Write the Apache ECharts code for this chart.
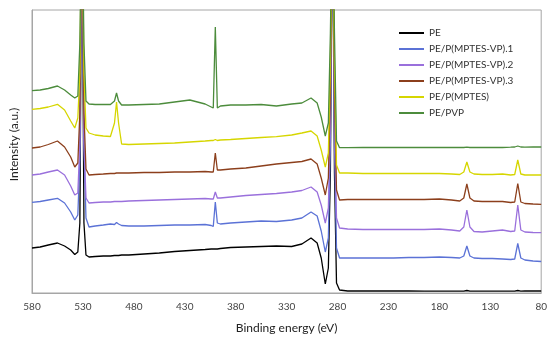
<!DOCTYPE html>
<html>
<head>
<meta charset="utf-8">
<script src="https://cdn.jsdelivr.net/npm/echarts@6/dist/echarts.min.js"></script>
<style>html,body{margin:0;padding:0;background:#fff;}#chart{width:550px;height:339px;}</style>
</head>
<body>
<div id="chart"></div>
<script>
// Binding energy grid (eV)
const energy = [580,572,564,555,548,542,538,535,533,531,529,527,524,518,510,503,499,497,495,492,485,470,455,440,425,410,404,402,400,398,395,385,370,355,340,325,315,306,300,296,292,289,287,285,283,281,278,270,255,240,225,210,195,180,168,160,156,153,150,146,138,128,118,110,106,103,100,96,88,80];
const seriesNames = ['PE','PE/P(MPTES-VP).1','PE/P(MPTES-VP).2','PE/P(MPTES-VP).3','PE/P(MPTES)','PE/PVP'];
// Intensity (a.u., stacked offsets as plotted)
const pe   = [45,46,48,50,47,43,38.5,41,70,400,70,38,36,36.5,37,37,37.5,37.5,37.5,38,38,39,40,41.5,42.5,43.5,44,44,44,44,44.5,45.5,46,46.5,47,46.5,49,55,50,35,9,25,120,400,120,10,3,2,2,2,2,2,1.8,1.8,1.8,1.8,1.8,2.5,1.8,1.8,1.8,1.8,1.8,1.8,1.8,2.5,1.8,2,2,2];
const vp1  = [90.7,91.5,93,94.7,90,81,73,78,133,400,150,75,66,67,68,69,68.5,70.5,69,67.5,67,67,67.5,68,68,68.5,67.5,66.5,91,70,69,70,71,72,71.5,73,75,81,77,62,41,55,150,400,150,45,35,35,35,35,35,35.5,35.5,36,35.5,35,37,47,37,35,34.5,34.5,34,33.5,34,49.5,35,33,32,31.5];
const vp2  = [118,119,121,123,118,107,98,100,150,400,150,95,90,90.5,91,91,91.5,91.5,91.5,91.5,92,92.5,93,93.5,94,94.5,94,94,101,95,95,96,97.5,98.5,99.5,101,102.5,106,101,88,70,85,170,400,170,75,65,64,63.5,63.5,63.5,63.5,63.5,64,63,62,66,83,66,61.5,61,62,63,61.5,62,88,63,61,60.5,60.3];
const vp3  = [145,146,148.5,152,146,136,126,130,180,400,180,124,118,118.5,119,119.5,119.5,120,120,120,120,120.5,120.5,121,121,121.5,121,121,140,123,123,124,125,127,129,130.5,131.5,134,129,115,98,115,200,400,200,103,93,93.5,93.5,93.5,93.5,93.5,93.5,94,93,92,95,109,95,92,91.5,91.5,91.5,90.5,91,109.5,91,89.5,89,88.7];
const mptes = [183.7,184.5,186,188.7,183,172,165,175,220,400,220,165,160,158,157,156.5,170,191,170,149,148.5,149,149.5,150,151,152,152.5,152.5,153.5,152.5,153,153.5,154.5,155.5,156.3,158,160,162,157,143,126,140,230,400,230,128,120,120,119.5,119.5,119.5,119.5,119.5,119.5,119,118.5,121,131,121,119,118.5,118.5,119,118,118.5,133,119,118,118,118];
const pvp  = [202.3,203,204.5,207,203,198,195,197,250,400,250,192,189,188.5,188.5,188.5,192,200,192,188,188,188.5,189,191,193,189,186,185,266,185,187,188,188,188.5,187,189,190,195,190,176,157,170,260,400,260,152,145.3,145.3,145.5,145.5,145.5,145.5,145.5,145.5,145.5,145.5,145.5,145.8,145.5,145.5,145.5,145.5,145.5,145.8,146,147,146,145.8,146,146];
const xTicks = [580,530,480,430,380,330,280,230,180,130,80];

const colors = ['#000000','#5b72d6','#9a70dc','#8c3f1c','#d6d600','#4c8c3c'];
const allData = [pe, vp1, vp2, vp3, mptes, pvp];

const chart = echarts.init(document.getElementById('chart'));
const font = 'Lato, "Open Sans", sans-serif';
chart.setOption({
  animation: false,
  backgroundColor: '#fff',
  textStyle: {fontFamily: font},
  grid: {left: 29, right: 8, top: 10, bottom: 46, show: true, borderColor: '#a6a6a6', borderWidth: 1},
  legend: {
    orient: 'vertical', left: 394, top: 23,
    icon: 'rect',
    itemWidth: 25, itemHeight: 2, itemGap: 6,
    textStyle: {fontSize: 10, color: '#333', fontFamily: font},
    data: seriesNames.map((n, i) => ({name: n, itemStyle: {color: colors[i]}}))
  },
  xAxis: {
    type: 'value', inverse: true, min: 80, max: 580, interval: 50,
    name: 'Binding energy (eV)', nameLocation: 'middle', nameGap: 29,
    nameTextStyle: {fontSize: 12, color: '#222', fontFamily: font},
    axisLine: {show: true, lineStyle: {color: '#a6a6a6'}},
    axisTick: {show: false},
    splitLine: {show: false},
    axisLabel: {fontSize: 10, color: '#444', margin: 9, fontFamily: font,
      customValues: xTicks}
  },
  yAxis: {
    type: 'value', min: 0, max: 283,
    name: 'Intensity (a.u.)', nameLocation: 'middle', nameGap: 12,
    nameTextStyle: {fontSize: 12, color: '#222', fontFamily: font, padding: [0, 0, 0, 14]},
    axisLine: {show: true, lineStyle: {color: '#a6a6a6'}},
    axisTick: {show: false}, axisLabel: {show: false}, splitLine: {show: false}
  },
  series: seriesNames.map((n, i) => ({
    name: n, type: 'line', symbol: 'none', clip: true,
    data: energy.map((e, k) => [e, allData[i][k]]),
    lineStyle: {color: colors[i], width: 1.3},
    itemStyle: {color: colors[i]},
    z: 2 + i
  }))
});
</script>
</body>
</html>
